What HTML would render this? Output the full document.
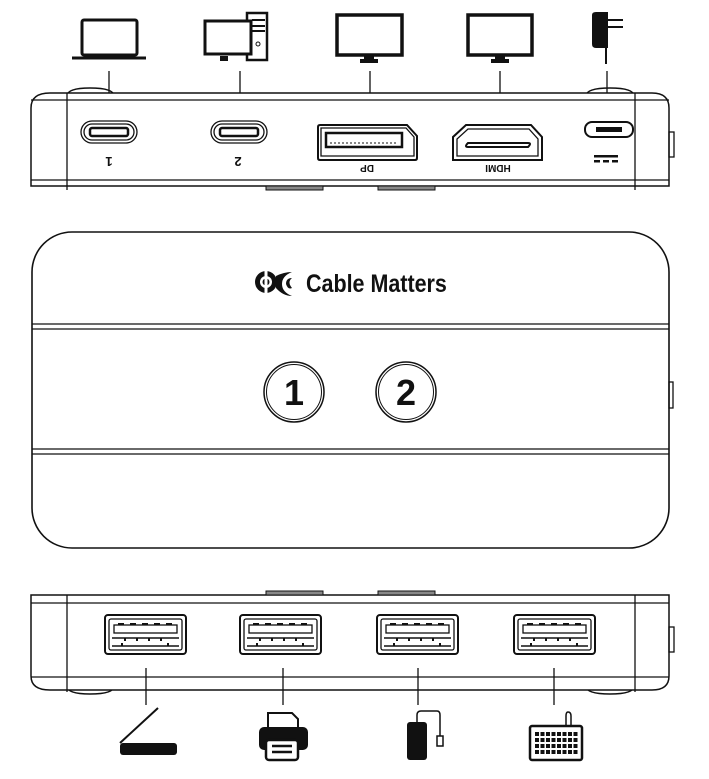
<!DOCTYPE html>
<html><head><meta charset="utf-8"><style>
html,body{margin:0;padding:0;background:#fff;}
svg{display:block;}
text{font-family:"Liberation Sans",sans-serif;font-weight:bold;}
</style></head><body>
<svg width="709" height="779" viewBox="0 0 709 779" xmlns="http://www.w3.org/2000/svg" fill="none" stroke="#111" stroke-width="1.5">
<g>
 <rect x="82" y="20" width="55" height="35" rx="2" stroke-width="3"/>
 <path d="M72 58 H146" stroke-width="3"/>
 <rect x="220" y="56" width="8" height="5" fill="#111" stroke="none"/>
 <rect x="247" y="13" width="20" height="47" stroke-width="2.5" fill="#fff"/>
 <rect x="205" y="21" width="46" height="33" stroke-width="3" fill="#fff"/>
 <path d="M252 20 H265 M252 26 H265 M252 31 H265" stroke-width="2"/>
 <circle cx="258" cy="44" r="2" stroke-width="1"/>
 <rect x="337" y="15" width="65" height="40" stroke-width="3.5"/>
 <rect x="364" y="55" width="10" height="5" fill="#111" stroke="none"/>
 <rect x="360" y="59" width="18" height="4" fill="#111" stroke="none"/>
 <rect x="468" y="15" width="64" height="40" stroke-width="3.5"/>
 <rect x="495" y="55" width="10" height="5" fill="#111" stroke="none"/>
 <rect x="491" y="59" width="18" height="4" fill="#111" stroke="none"/>
 <path d="M592 15 Q592 12 596 12 H608 V48 H596 Q592 48 592 44 Z" fill="#111" stroke="none"/>
 <path d="M608 20 H623 M608 27 H623" stroke-width="2"/>
 <path d="M606 48 V64" stroke-width="2"/>
</g>
<path d="M109 71 V113 M240 71 V113 M370 71 V113 M500 71 V113 M607 71 V113" stroke-width="1.3"/>
<path d="M67 96 Q67 88 90 88 Q114 88 114 96 M586 96 Q586 88 610 88 Q634 88 634 96" stroke-width="1.5"/>
<path d="M31 186 V108 Q31 93 50 93 H652 Q669 93 669 108 V186 Z" fill="#fff" stroke-width="1.5"/>
<path d="M31 100 H669 M31 180 H669 M67 93 V190 M635 93 V190" stroke-width="1.3"/>
<rect x="266" y="186" width="57" height="4" fill="#888" stroke="#111" stroke-width="1"/>
<rect x="378" y="186" width="57" height="4" fill="#888" stroke="#111" stroke-width="1"/>
<rect x="669" y="132" width="5" height="25" stroke-width="1.3"/>
<g stroke-width="1.3">
 <rect x="81" y="121" width="56" height="22" rx="11"/><rect x="84" y="124" width="50" height="16" rx="8"/>
 <rect x="90" y="128" width="38" height="8" rx="2" stroke-width="2.5"/>
 <rect x="211" y="121" width="56" height="22" rx="11"/><rect x="214" y="124" width="50" height="16" rx="8"/>
 <rect x="220" y="128" width="38" height="8" rx="2" stroke-width="2.5"/>
 <path d="M318 127 Q318 125 320 125 H407 L417 136 V158 Q417 160 415 160 H320 Q318 160 318 158 Z" stroke-width="2"/>
 <path d="M321 128 H406 L414 137 V156 H321 Z"/>
 <path d="M326 133 H402 V147 H326 Z" stroke-width="2.5"/>
 <path d="M330 143 H398" stroke-width="1" stroke-dasharray="2 2"/>
 <path d="M466 125 H531 L542 137 V160 H453 V137 Z" stroke-width="2"/>
 <path d="M468 129 H529 L538 139 V156 H457 V139 Z"/>
 <path d="M468 143 H528 Q532 143 528 147 H468 Q464 147 468 143 Z" stroke-width="2"/>
 <rect x="585" y="122" width="48" height="15" rx="7" stroke-width="2"/>
 <rect x="596" y="127" width="26" height="5" fill="#111" stroke="none"/>
</g>
<g fill="#111" stroke="none" font-size="13">
 <text transform="translate(109,157) rotate(180)" text-anchor="middle">1</text>
 <text transform="translate(238,157) rotate(180)" text-anchor="middle">2</text>
 <text transform="translate(367,165) rotate(180)" text-anchor="middle" font-size="10">DP</text>
 <text transform="translate(498,165) rotate(180)" text-anchor="middle" font-size="10">HDMI</text>
 <rect x="594" y="155" width="24" height="2.5"/>
 <rect x="594" y="160" width="6" height="2.5"/><rect x="603" y="160" width="6" height="2.5"/><rect x="612" y="160" width="6" height="2.5"/>
</g>

<rect x="32" y="232" width="637" height="316" rx="40" stroke-width="1.6"/>
<path d="M32 324 H669 M32 329 H669 M32 449 H669 M32 454 H669" stroke-width="1.3"/>
<rect x="669" y="382" width="4" height="26" stroke-width="1.3"/>
<circle cx="294" cy="392" r="30" stroke-width="1.5"/><circle cx="294" cy="392" r="27.5" stroke-width="1"/>
<circle cx="406" cy="392" r="30" stroke-width="1.5"/><circle cx="406" cy="392" r="27.5" stroke-width="1"/>
<text x="294" y="405" font-size="36" text-anchor="middle" fill="#111" stroke="none">1</text>
<text x="406" y="405" font-size="36" text-anchor="middle" fill="#111" stroke="none">2</text>
<g stroke="none" fill="#111">
 <circle cx="266" cy="282" r="11"/>
 <circle cx="266" cy="282" r="6" fill="#fff"/>
 <circle cx="266" cy="282" r="3.5"/>
 <rect x="264.5" y="270" width="3" height="24" fill="#fff"/>
 <path d="M276 276 Q284 272 292 272 Q282 276 282 284 Q282 292 292 296 Q283 296 276 288 Z"/>
 <path d="M292 278 Q287 282 292 288 Q288 290 286 284 Q286 278 292 278 Z"/>
 <text x="306" y="292" font-size="25" transform="translate(306,0) scale(0.86,1) translate(-306,0)">Cable Matters</text>
</g>

<path d="M67 686 Q67 694 90 694 Q114 694 114 686 M586 686 Q586 694 610 694 Q634 694 634 686" stroke-width="1.5"/>
<path d="M31 595 H669 V676 Q669 690 652 690 H50 Q31 690 31 676 Z" fill="#fff" stroke-width="1.5"/>
<path d="M31 603 H669 M31 677 H669 M67 595 V692 M635 595 V692" stroke-width="1.3"/>
<rect x="266" y="591" width="57" height="4" fill="#888" stroke="#111" stroke-width="1"/>
<rect x="378" y="591" width="57" height="4" fill="#888" stroke="#111" stroke-width="1"/>
<rect x="669" y="627" width="5" height="25" stroke-width="1.3"/>
<g stroke-width="1.3">
 <g id="ua">
  <rect x="105" y="615" width="81" height="39" rx="3" stroke-width="2"/>
  <rect x="109" y="619" width="73" height="31" rx="2"/>
  <rect x="114" y="625" width="63" height="8" stroke-width="1.3"/>
  <path d="M118 624 h6 M130 624 h6 M142 624 h6 M154 624 h6 M166 624 h6" stroke-width="2"/>
  <path d="M112 638 H179 M112 646 H179" stroke-width="1.5"/>
  <path d="M125 638 v3 M137 638 v3 M149 638 v3 M161 638 v3 M122 646 v-3 M168 646 v-3" stroke-width="2"/>
 </g>
 <use href="#ua" x="135"/><use href="#ua" x="272"/><use href="#ua" x="409"/>
</g>
<path d="M146 668 V705 M283 668 V705 M418 668 V705 M554 668 V705" stroke-width="1.3"/>
<g fill="#111" stroke="none">
 <path d="M120 743 L158 708" stroke="#111" stroke-width="2"/>
 <rect x="120" y="743" width="57" height="12" rx="3"/>
 <path d="M268 713 H292 L298 719 V735 H268 Z" fill="#fff" stroke="#111" stroke-width="2"/>
 <rect x="259" y="727" width="49" height="23" rx="5"/>
 <rect x="266" y="740" width="32" height="20" rx="3" fill="#fff" stroke="#111" stroke-width="2.5"/>
 <path d="M272 746 H292 M272 752 H292" stroke="#111" stroke-width="2.5"/>
 <rect x="407" y="722" width="20" height="38" rx="3"/>
 <path d="M417 722 V715 Q417 711 421 711 H437 Q440 711 440 715 V738" stroke="#111" stroke-width="1.5" fill="none"/>
 <rect x="437" y="736" width="6" height="10" fill="#fff" stroke="#111" stroke-width="1.5"/>
 <path d="M566 726 V716 Q566 712 568 712 Q571 712 571 716 V726" stroke="#111" stroke-width="1.5" fill="none"/>
 <rect x="530" y="726" width="52" height="34" rx="2" fill="#fff" stroke="#111" stroke-width="2.5"/>
 <path d="M535 734 H578 M535 740 H578 M535 746 H578 M535 752 H578" stroke="#111" stroke-width="4" stroke-dasharray="4 1.5"/>
</g>
</svg>
</body></html>
